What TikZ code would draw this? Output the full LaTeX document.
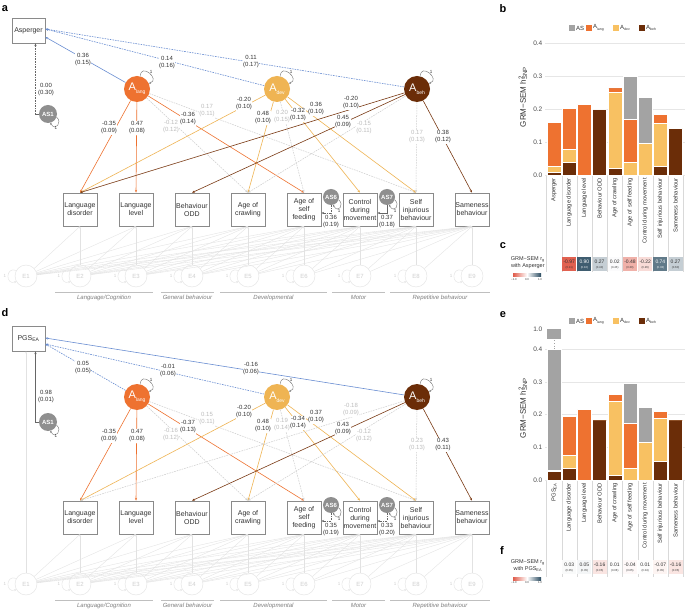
\documentclass[tikz,border=0pt]{standalone}
\usepackage{fontspec}
\setmainfont{Liberation Sans}
\usepackage{xcolor}
\usepackage{tikz}
\usetikzlibrary{arrows.meta}

\definecolor{langC}{HTML}{EE7230}
\definecolor{devC}{HTML}{EFB453}
\definecolor{devBar}{HTML}{F8C162}
\definecolor{behC}{HTML}{6B2D08}
\definecolor{behLine}{HTML}{7A3A14}
\definecolor{asC}{HTML}{A3A3A3}
\definecolor{asNode}{HTML}{8F8F8F}
\definecolor{bluC}{HTML}{6A8ED2}
\definecolor{nsC}{HTML}{CDCDCD}
\definecolor{nsTxt}{HTML}{BDBDBD}
\definecolor{errC}{HTML}{E2E2E2}
\definecolor{errTxt}{HTML}{CFCFCF}
\definecolor{boxC}{HTML}{8A8A8A}
\definecolor{txtC}{HTML}{333333}
\definecolor{grpC}{HTML}{7F7F7F}
\definecolor{gridC}{HTML}{E6E6E6}
\definecolor{rgN}{HTML}{E05C4B}
\definecolor{rgP}{HTML}{2A4B60}

\newcommand{\lsub}[2][5]{\raisebox{-0.3em}{\fontsize{#1}{#1}\selectfont #2}}

\tikzset{
  arw/.style={-{Stealth[length=2.8pt,width=2.2pt]}},
  obs/.style={draw=boxC, line width=0.7pt, fill=white, minimum width=34pt,
    minimum height=33pt, inner sep=0pt, align=center, text=txtC,
    font=\fontsize{7}{8}\selectfont},
  lat/.style={circle, minimum size=26pt, inner sep=0pt, text=white,
    font=\fontsize{11}{11}\selectfont},
  asn/.style={circle, fill=asNode, inner sep=0pt, text=white,
    font=\bfseries\fontsize{6}{6}\selectfont},
  err/.style={circle, draw=errC, minimum size=22pt, inner sep=0pt, text=errTxt,
    font=\fontsize{6}{6}\selectfont},
  one/.style={inner sep=0pt, font=\fontsize{4.5}{4.5}\selectfont, text=txtC},
  lbl/.style={fill=white, inner sep=0.4pt, align=center, text=txtC,
    font=\fontsize{6}{7}\selectfont},
  lbl/lang/.style={}, lbl/dev/.style={}, lbl/beh/.style={},
  lbl/ns/.style={text=nsTxt},
  lang/.style={arw, draw=langC, line width=0.6pt},
  dev/.style={arw, draw=devC, line width=0.6pt},
  beh/.style={arw, draw=behLine, line width=0.6pt},
  dsh/.style={dash pattern=on 1.6pt off 1pt},
  ns/.style={arw, draw=nsC, line width=0.5pt, dsh},
  bsol/.style={arw, draw=bluC, line width=0.6pt},
  bdash/.style={bsol, dsh},
  asp/.style={arw, draw=black!60, line width=0.5pt},
  asd/.style={asp, dsh},
  lp/.style={-{Stealth[length=2pt,width=1.8pt]}, draw=black!55, line width=0.4pt},
  eloop/.style={lp, draw=errC},
  efan/.style={-{Stealth[length=2pt,width=1.6pt]}, draw=errC, line width=0.35pt},
  grp/.style={text=grpC, font=\itshape\fontsize{6}{6}\selectfont, inner sep=0pt},
  grpline/.style={draw=black!25, line width=0.5pt},
  plet/.style={font=\bfseries\fontsize{11}{11}\selectfont, inner sep=0pt},
  leg/.style={anchor=west, inner sep=0.5pt, text=txtC, font=\fontsize{6}{6}\selectfont},
  gridln/.style={draw=gridC, line width=0.5pt},
  tk/.style={anchor=east, inner sep=0.5pt, text=black!70, font=\fontsize{6.5}{6.5}\selectfont},
  ytl/.style={rotate=90, inner sep=0pt, text=txtC, font=\fontsize{8}{8}\selectfont},
  seg/.style={draw=white, line width=0.3pt},
  xlab/.style={rotate=90, anchor=east, inner sep=0pt, text=txtC,
    font=\fontsize{5.8}{6}\selectfont},
  tab/.style={draw=black!15, line width=0.4pt},
  rgv/.style={inner sep=0pt, font=\fontsize{5}{5}\selectfont},
  rgse/.style={inner sep=0pt, font=\fontsize{2.8}{3}\selectfont},
  rgl/.style={anchor=east, align=center, inner sep=0pt, text=txtC,
    font=\fontsize{5.5}{6.5}\selectfont},
  cbl/.style={inner sep=0pt, text=txtC, font=\fontsize{2.8}{3}\selectfont}
}

\begin{document}
\begin{tikzpicture}[x=1pt, y=-1pt]
\useasboundingbox (0,0) rectangle (685,609);
\fill[white] (0,0) rectangle (685,609);

% panel letters
\foreach \n/\xx/\yy in {a/5/9, b/503/9, c/503/246, d/5/313, e/503/315, f/502/551}
  \node[plet] (let-\n) at (\xx,\yy) {\n};

% a, d: path model layout
\foreach \p/\dy/\topname in {a/0/Asperger, d/308/{PGS\textsubscript{EA}}} {
\begin{scope}[shift={(0,\dy)}]
  \node[obs, minimum width=33pt, minimum height=25pt] (\p-top) at (28.5,30.5) {\topname};
  \foreach \n/\xx/\tg [count=\ii from 2] in {ld/80/{Language\\disorder},
      ll/136/{Language\\level}, odd/192/{Behaviour\\ODD}, crawl/248/{Age of\\crawling},
      feed/304/{Age of\\self\\feeding}, ctrl/360/{Control\\during\\movement},
      sib/416/{Self\\injurious\\behaviour}, same/472/{Sameness\\behaviour}}
    \node[obs, alias=\p-o\ii] (\p-\n) at (\xx,209.5) {\tg};
  \foreach \ii/\xx in {1/26, 2/80, 3/136, 4/192, 5/248, 6/304, 7/360, 8/416, 9/472} {
    \node[err] (\p-e\ii) at (\xx,276) {E\ii};
    \draw[eloop] (\p-e\ii.150) .. controls +(-11,-4) and +(-11,4) .. (\p-e\ii.210);
    \node[one, text=errTxt] (\p-e\ii-one) at ({\xx-21},276) {1};
  }
  \foreach \ii in {1,...,9}
    \foreach \jj in {\ii,...,9}
      {\ifnum\jj>1 \draw[efan] (\p-e\ii) -- (\p-o\jj.south);\fi}
  \foreach \n/\xx/\col/\sbt in {alang/137/langC/lang, adev/277/devC/dev, abeh/417/behC/beh} {
    \node[lat, fill=\col] (\p-\n) at (\xx,89) {A\lsub{\sbt}};
    \draw[lp] (\p-\n.75) .. controls +(0,-14) and +(12,-4) .. (\p-\n.25);
    \node[one] (\p-\n-one) at ({\xx+14},72) {1};
  }
  \node[asn, minimum size=18pt] (\p-as1) at (48,114) {AS1};
  \node[asn, minimum size=16pt] (\p-as6) at (331,197) {AS6};
  \node[asn, minimum size=16pt] (\p-as7) at (387,197) {AS7};
  \foreach \n in {as1, as6, as7} {
    \draw[lp] (\p-\n.-20) .. controls +(6,5) and +(5,9) .. (\p-\n.-75);
    \node[one] (\p-\n-one) at ([xshift=8pt, yshift=-14pt]\p-\n.center) {1};
  }
  \foreach \ga/\gb/\tg in {55/153/{Language/Cognition}, 161/214/{General behaviour},
      220/327/{Developmental}, 332/385/{Motor}, 390/490/{Repetitive behaviour}} {
    \draw[grpline] (\ga,292.5) -- (\gb,292.5);
    \node[grp] (\p-g\ga) at ({(\ga+\gb)/2},297.5) {\tg};
  }
\end{scope}
}
\draw[efan] (d-e1) -- (d-e1 |- d-top.south);

% a: paths
\foreach \f/\s/\sh/\xx/\yy/\val in {alang/bsol/-6.5/83/60/{0.36\\(0.15)},
    adev/bdash/1.5/167/63/{0.14\\(0.16)}, abeh/bdash/1.5/251/62/{0.11\\(0.17)}} {
  \draw[\s] (a-\f) -- ([yshift=\sh pt]a-top.east);
  \node[lbl] (a-\f-top) at (\xx,\yy) {\val};
}
\draw[asd] (a-as1.west) -| ([xshift=7pt]a-top.south);
\node[lbl] (a-as1-l) at (46,90) {0.00\\(0.30)};
\draw[asd] (a-as6.south) |- ([yshift=-3.5pt]a-feed.east);
\node[lbl] (a-as6-l) at (331,221.5) {0.36\\(0.19)};
\draw[asp] (a-as7.south) |- ([yshift=-3.5pt]a-ctrl.east);
\node[lbl] (a-as7-l) at (387,221.5) {0.37\\(0.18)};
\def\loadA{alang/ld/lang/109/128/{-0.35\\(0.09)}, alang/ll/lang/137/128/{0.47\\(0.08)},
  alang/crawl/ns/171/127/{-0.12\\(0.12)}, alang/feed/lang/188/119/{-0.36\\(0.14)},
  alang/sib/ns/207/111/{0.17\\(0.11)}, adev/ld/dev/244/104/{-0.20\\(0.10)},
  adev/crawl/dev/263/118/{0.48\\(0.10)}, adev/feed/ns/282/117/{0.20\\(0.15)},
  adev/ctrl/dev/298/115/{-0.32\\(0.13)}, adev/sib/dev/316/109/{0.36\\(0.10)},
  abeh/ld/beh/351/103/{-0.20\\(0.10)}, abeh/odd/beh/343/122/{0.45\\(0.09)},
  abeh/crawl/ns/364/128/{-0.15\\(0.11)}, abeh/sib/ns/417/137/{0.17\\(0.13)},
  abeh/same/beh/443/137/{0.38\\(0.12)}}
\foreach \f/\tg/\s/\xx/\yy/\val in \loadA
  \draw[\s] (a-\f) -- (a-\tg.north);
\foreach \f/\tg/\s/\xx/\yy/\val in \loadA
  \node[lbl, lbl/\s] (a-\f-\tg) at (\xx,\yy) {\val};

% d: paths
\begin{scope}[shift={(0,308)}]
\foreach \f/\s/\sh/\xx/\yy/\val in {alang/bdash/-5.5/83/60/{0.05\\(0.05)},
    adev/bdash/-5.5/168/63/{-0.01\\(0.06)}, abeh/bsol/0.5/251/61/{-0.16\\(0.06)}} {
  \draw[\s] (d-\f) -- ([yshift=\sh pt]d-top.east);
  \node[lbl] (d-\f-top) at (\xx,\yy) {\val};
}
\draw[asp] (d-as1.west) -| ([xshift=7pt]d-top.south);
\node[lbl] (d-as1-l) at (46,89) {0.98\\(0.01)};
\draw[asd] (d-as6.south) |- ([yshift=-3.5pt]d-feed.east);
\node[lbl] (d-as6-l) at (331,221.5) {0.35\\(0.19)};
\draw[asd] (d-as7.south) |- ([yshift=-3.5pt]d-ctrl.east);
\node[lbl] (d-as7-l) at (387,221.5) {0.33\\(0.20)};
\def\loadD{alang/ld/lang/109/128/{-0.35\\(0.09)}, alang/ll/lang/137/128/{0.47\\(0.08)},
  alang/crawl/ns/171/127/{-0.16\\(0.12)}, alang/feed/lang/188/119/{-0.37\\(0.13)},
  alang/sib/ns/207/111/{0.15\\(0.11)}, adev/ld/dev/244/104/{-0.20\\(0.10)},
  adev/crawl/dev/263/118/{0.48\\(0.10)}, adev/feed/ns/282/117/{0.19\\(0.14)},
  adev/ctrl/dev/298/115/{-0.34\\(0.14)}, adev/sib/dev/316/109/{0.37\\(0.10)},
  abeh/ld/ns/351/102/{-0.18\\(0.09)}, abeh/odd/beh/343/121/{0.43\\(0.09)},
  abeh/crawl/ns/364/128/{-0.12\\(0.12)}, abeh/sib/ns/417/137/{0.23\\(0.13)},
  abeh/same/beh/443/137/{0.43\\(0.11)}}
\foreach \f/\tg/\s/\xx/\yy/\val in \loadD
  \draw[\s] (d-\f) -- (d-\tg.north);
\foreach \f/\tg/\s/\xx/\yy/\val in \loadD
  \node[lbl, lbl/\s] (d-\f-\tg) at (\xx,\yy) {\val};
\end{scope}

% b: heritability bars
\foreach \col/\xx/\tg in {asC/569/AS, langC/586/{A\lsub[3.5]{lang}},
    devBar/613/{A\lsub[3.5]{dev}}, behC/639/{A\lsub[3.5]{beh}}} {
  \fill[\col] (\xx,25) rectangle ({\xx+6},31);
  \node[leg] (b-\col) at ({\xx+6.5},28) {\tg};
}
\foreach \val [count=\kk from 0] in {0.0,0.1,0.2,0.3,0.4} {
  \draw[gridln] (545,{175-33*\kk}) -- (685,{175-33*\kk});
  \node[tk] (b-t\kk) at (543,{175-33*\kk}) {\val};
}
\node[ytl] (b-ax) at (523,97) {GRM−SEM h\rlap{\textsuperscript{2}}\textsubscript{SNP}};
\foreach \hbeh/\hdev/\hlang/\hall [count=\kk] in {0.009/0.028/0.160/0.160,
    0.038/0.079/0.202/0.202, 0/0/0.215/0.215, 0.200/0.200/0.200/0.200,
    0.022/0.250/0.265/0.265, 0/0.039/0.168/0.300, 0/0.098/0.098/0.235,
    0.027/0.158/0.185/0.185, 0.143/0.143/0.143/0.143} {
  \pgfmathsetmacro\xl{547+15.2*(\kk-1)}
  \path[seg, fill=behC] (\xl,175) rectangle ({\xl+14},{175-330*\hbeh});
  \path[seg, fill=devBar] (\xl,{175-330*\hbeh}) rectangle ({\xl+14},{175-330*\hdev});
  \path[seg, fill=langC] (\xl,{175-330*\hdev}) rectangle ({\xl+14},{175-330*\hlang});
  \path[seg, fill=asC] (\xl,{175-330*\hlang}) rectangle ({\xl+14},{175-330*\hall});
}
\foreach \kk in {0,...,9}
  \draw[tab] ({546.6+15.2*\kk},176) -- ({546.6+15.2*\kk},272);
\foreach \tg [count=\kk] in {Asperger, Language disorder, Language level, Behaviour ODD,
    Age of crawling, Age of self feeding, Control during movement,
    Self injurious behaviour, Sameness behaviour}
  \node[xlab] (b-x\kk) at ({554+15.2*(\kk-1)},178) {\tg};

% c: genetic correlations with Asperger
\node[rgl] (c-lab) at (545,262.5) {GRM−SEM r\textsubscript{g}\\with Asperger};
\shade[left color=rgN, right color=rgP, middle color=white] (513,274) rectangle (541,277);
\foreach \val/\xx in {−1.0/514, 0.0/527, 1.0/540}
  \node[cbl] (c-cb\xx) at (\xx,280) {\val};
\foreach \val/\se [count=\kk from 2] in {-0.97/0.11, 0.90/0.10, 0.27/0.40, 0.02/0.45,
    -0.48/0.30, -0.22/0.26, 0.74/0.33, 0.27/0.60} {
  \pgfmathsetmacro\xl{547+15.2*(\kk-1)}
  \pgfmathsetmacro\pct{abs(\val)*100}
  \ifdim\val pt<0pt \def\hue{rgN}\else\def\hue{rgP}\fi
  \ifdim\val pt>0.6pt \def\tcol{white}\else\def\tcol{txtC}\fi
  \fill[fill=\hue!\pct!white] (\xl,257) rectangle ({\xl+14},271);
  \node[rgv, text=\tcol] (c-v\kk) at ({\xl+7},262) {\val};
  \node[rgse, text=\tcol] (c-e\kk) at ({\xl+7},267.5) {(\se)};
}

% e: heritability bars, PGS model
\foreach \col/\xx/\tg in {asC/569/AS, langC/586/{A\lsub[3.5]{lang}},
    devBar/613/{A\lsub[3.5]{dev}}, behC/639/{A\lsub[3.5]{beh}}} {
  \fill[\col] (\xx,318) rectangle ({\xx+6},324);
  \node[leg] (e-\col) at ({\xx+6.5},321) {\tg};
}
\foreach \val [count=\kk from 0] in {0.0,0.1,0.2,0.3,0.4} {
  \draw[gridln] (545,{480-32.7*\kk}) -- (685,{480-32.7*\kk});
  \node[tk] (e-t\kk) at (543,{480-32.7*\kk}) {\val};
}
\node[tk] (e-t10) at (543,329) {1.0};
\node[ytl] (e-ax) at (523,408) {GRM−SEM h\rlap{\textsuperscript{2}}\textsubscript{SNP}};
\foreach \hbeh/\hdev/\hlang/\hall [count=\kk] in {0.027/0.027/0.030/0.400,
    0.036/0.075/0.195/0.195, 0/0/0.218/0.218, 0.185/0.185/0.185/0.185,
    0.016/0.242/0.264/0.264, 0/0.036/0.173/0.295, 0/0.115/0.115/0.224,
    0.057/0.190/0.212/0.212, 0.185/0.185/0.185/0.185} {
  \pgfmathsetmacro\xl{547+15.2*(\kk-1)}
  \path[seg, fill=behC] (\xl,480) rectangle ({\xl+14},{480-327*\hbeh});
  \path[seg, fill=devBar] (\xl,{480-327*\hbeh}) rectangle ({\xl+14},{480-327*\hdev});
  \path[seg, fill=langC] (\xl,{480-327*\hdev}) rectangle ({\xl+14},{480-327*\hlang});
  \path[seg, fill=asC] (\xl,{480-327*\hlang}) rectangle ({\xl+14},{480-327*\hall});
}
\fill[asC] (547,329) rectangle (561,339.5);
\draw[asC, dotted, line width=0.6pt] (554,340.5) -- (554,348.5);
\foreach \kk in {0,...,9}
  \draw[tab] ({546.6+15.2*\kk},481) -- ({546.6+15.2*\kk},577);
\foreach \tg [count=\kk] in {PGS\textsubscript{EA}, Language disorder, Language level,
    Behaviour ODD, Age of crawling, Age of self feeding, Control during movement,
    Self injurious behaviour, Sameness behaviour}
  \node[xlab] (e-x\kk) at ({554+15.2*(\kk-1)},483) {\tg};

% f: genetic correlations with PGS
\node[rgl] (f-lab) at (545,565.5) {GRM−SEM r\textsubscript{g}\\with PGS\textsubscript{EA}};
\shade[left color=rgN, right color=rgP, middle color=white] (513,577) rectangle (541,580);
\foreach \val/\xx in {−1.0/514, 0.0/527, 1.0/540}
  \node[cbl] (f-cb\xx) at (\xx,583) {\val};
\foreach \val/\se [count=\kk from 2] in {0.03/0.05, 0.05/0.05, -0.16/0.05, 0.01/0.06,
    -0.04/0.05, 0.01/0.04, -0.07/0.05, -0.16/0.05} {
  \pgfmathsetmacro\xl{547+15.2*(\kk-1)}
  \pgfmathsetmacro\pct{abs(\val)*100}
  \ifdim\val pt<0pt \def\hue{rgN}\else\def\hue{rgP}\fi
  \fill[fill=\hue!\pct!white] (\xl,560) rectangle ({\xl+14},574);
  \node[rgv, text=txtC] (f-v\kk) at ({\xl+7},565) {\val};
  \node[rgse, text=txtC] (f-e\kk) at ({\xl+7},570.5) {(\se)};
}
\end{tikzpicture}
\end{document}
